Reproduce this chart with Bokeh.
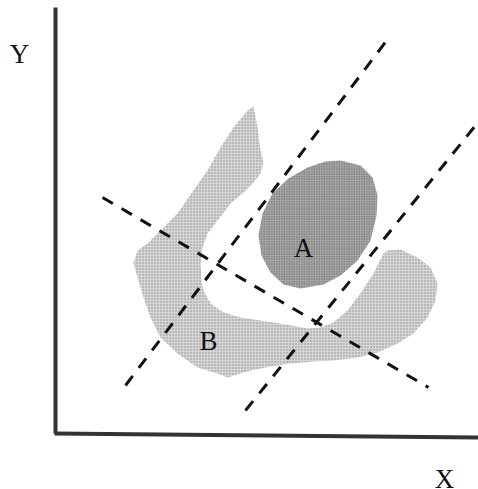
from bokeh.plotting import figure
from bokeh.models import Range1d, ColumnDataSource
from bokeh.core.properties import value
from bokeh.embed import file_html
from bokeh.resources import INLINE

# Diagram coordinates: origin at the corner of the axes, y upward.

# Region B: the light, bent band (outline traced clockwise from the top of its left arm)
b_x = [198, 202, 205, 208, 205, 198, 188, 175, 162, 152, 147, 145, 146, 148, 155, 168,
       185, 205, 230, 252, 265, 278, 292, 305, 318, 328, 332, 345, 362, 375, 382, 380,
       372, 358, 342, 322, 302, 278, 258, 235, 215, 195, 172, 162, 142, 122, 105, 95,
       88, 83, 78, 82, 92, 108, 122, 138, 152, 165, 178, 192]
b_y = [327, 306, 283, 271, 260, 251, 241, 230, 213, 200, 186, 170, 153, 143, 130, 121,
       116, 113, 109, 105, 106, 111, 123, 140, 160, 180, 183, 184, 176, 166, 150, 133,
       116, 100, 90, 81, 76, 73, 72, 70, 67, 63, 56, 60, 66, 80, 96, 116,
       136, 153, 170, 183, 190, 206, 220, 243, 263, 286, 306, 323]

# Region A: the darker oval cluster
a_x = [285, 305, 317, 322, 321, 315, 302, 285, 268, 245, 228, 215, 206, 203, 207, 217,
       233, 252, 270]
a_y = [273, 268, 256, 238, 218, 193, 173, 158, 149, 145, 149, 161, 178, 198, 220, 240,
       255, 266, 272]

# Dashed boundaries: (x0, y0, x1, y1)
cut_x0 = [70, 190, 47]
cut_y0 = [48, 23, 236]
cut_x1 = [335, 420, 373]
cut_y1 = [398, 308, 46]

# Axis lines
axis_x0 = [0, -1]
axis_y0 = [0, 0]
axis_x1 = [0, 423]
axis_y1 = [426, -4]

# Labels (positioned by their baseline)
label_text = ["Y", "X", "A", "B"]
label_x = [-36, 389, 248, 153]
label_y = [380, -45, 186, 93]

p = figure(width=478, height=489, output_backend="svg", toolbar_location=None,
           x_range=Range1d(-55, 423), y_range=Range1d(-56, 433),
           min_border=0, outline_line_color=None)
p.axis.visible = False
p.grid.visible = False
p.background_fill_color = "white"
p.border_fill_color = "white"

# Stippled regions: grey fill with a fine dot texture on top
p.patch(b_x, b_y, fill_color="#d6d6d6", line_color=None,
        hatch_pattern="dot", hatch_scale=3, hatch_weight=1, hatch_color="#8a8a8a")
p.patch(a_x, a_y, fill_color="#a8a8a8", line_color=None,
        hatch_pattern="dot", hatch_scale=2.5, hatch_weight=1, hatch_color="#555555")

p.segment(x0=axis_x0, y0=axis_y0, x1=axis_x1, y1=axis_y1,
          line_color="#333333", line_width=4)

p.segment(x0=cut_x0, y0=cut_y0, x1=cut_x1, y1=cut_y1,
          line_color="#111111", line_width=3, line_dash="12 10")

src = ColumnDataSource(dict(x=label_x, y=label_y, t=label_text))
p.text(x="x", y="y", text="t", source=src,
       text_font=value("Liberation Serif"),
       text_font_size="27px", text_align="center", text_baseline="alphabetic",
       text_color="#111111")

open("out.html", "w").write(file_html(p, INLINE))
